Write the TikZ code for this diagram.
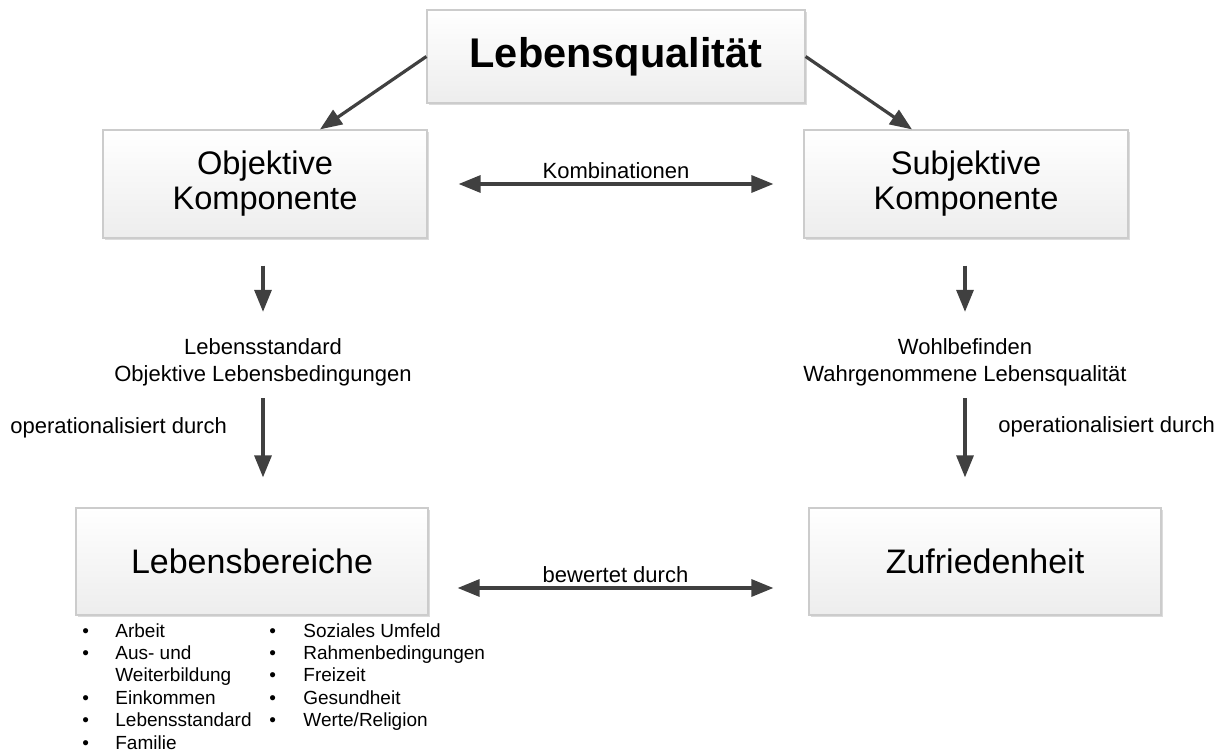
\documentclass[tikz,border=0pt]{standalone}
\usepackage{fontspec}
\setmainfont{Liberation Sans}
\usetikzlibrary{arrows.meta,shadows,calc}

\tikzset{
  box/.style={draw=gray!40, line width=0.6pt, top color=white, bottom color=gray!14,
    drop shadow={shadow xshift=1.2pt, shadow yshift=-1.2pt, fill=gray!60, opacity=0.45},
    inner sep=0pt, align=center},
  arr/.style={draw=black!75, line width=1.6pt, -{Triangle[length=11pt,width=8.5pt]}},
  darr/.style={arr, {Triangle[length=11pt,width=8.5pt]}-{Triangle[length=11pt,width=8.5pt]}},
  txt/.style={inner sep=0pt, align=center, font=\fontsize{11}{13.5}\selectfont},
  lst/.style={anchor=north west, inner sep=0pt, font=\fontsize{9.5}{11.2}\selectfont},
}

\begin{document}
\begin{tikzpicture}[x=0.5pt,y=-0.5pt]
  \useasboundingbox (0,0) rectangle (1231,753);

  \def\midw{162pt}% width of the middle boxes
  \def\lowb{176pt}% width of the lower boxes

  % boxes
  \node[box, minimum width=189pt, minimum height=46.5pt,
        font=\fontsize{20.75}{24}\selectfont\bfseries] (lq) at (616,56.5) {Lebensqualität};
  \node[box, minimum width=\midw, minimum height=54pt,
        font=\fontsize{16.3}{17.5}\selectfont] (obj) at (265,184) {Objektive\\Komponente};
  \node[box, minimum width=\midw, minimum height=54pt,
        font=\fontsize{16.3}{17.5}\selectfont] (subj) at (966,184) {Subjektive\\Komponente};
  \node[box, minimum width=\lowb, minimum height=53.5pt,
        font=\fontsize{17}{20}\selectfont] (leb) at (252,561.5) {Lebensbereiche};
  \node[box, minimum width=\lowb, minimum height=53.5pt,
        font=\fontsize{17}{20}\selectfont] (zuf) at (985,561.5) {Zufriedenheit};

  % texts between the boxes
  \node[txt] (lsd) at (263,362) {Lebensstandard\\Objektive Lebensbedingungen};
  \node[txt] (wb) at (965,362) {Wohlbefinden\\Wahrgenommene Lebensqualität};
  \node[txt, anchor=west] (opl) at (10,428) {operationalisiert durch};
  \node[txt, anchor=west] (opr) at (998,427) {operationalisiert durch};

  % lists below Lebensbereiche
  \node[lst] (lsa) at (82,621) {\begin{tabular}{@{}p{16.5pt}@{}l@{}}
    • & Arbeit\\
    • & Aus- und\\
      & Weiterbildung\\
    • & Einkommen\\
    • & Lebensstandard\\
    • & Familie
  \end{tabular}};
  \node[lst] (lsb) at (269,621) {\begin{tabular}{@{}p{17pt}@{}l@{}}
    • & Soziales Umfeld\\
    • & Rahmenbedingungen\\
    • & Freizeit\\
    • & Gesundheit\\
    • & Werte/Religion
  \end{tabular}};

  % arrows
  \draw[arr] (lq.west) -- ([xshift=27.5pt]obj.north);
  \draw[arr] (lq.east) -- ([xshift=-27pt]subj.north);
  \draw[darr] ([xshift=15.5pt]obj.east) -- node[txt, above=2pt] {Kombinationen} ([xshift=-15pt]subj.west);
  \draw[darr] ([xshift=14.5pt,yshift=-13.25pt]leb.east) -- node[txt, above=2pt] {bewertet durch}
    ([xshift=-17.5pt,yshift=-13.25pt]zuf.west);

  \draw[arr] ($(lsd |- obj.south)+(0,27)$) -- ($(lsd.north)+(0,-26)$);
  \draw[arr] ($(lsd.south)+(0,12)$) -- ($(lsd |- leb.north)+(0,-30)$);
  \draw[arr] ($(wb |- subj.south)+(0,27)$) -- ($(wb.north)+(0,-26)$);
  \draw[arr] ($(wb.south)+(0,12)$) -- ($(wb |- zuf.north)+(0,-30)$);
\end{tikzpicture}
\end{document}
